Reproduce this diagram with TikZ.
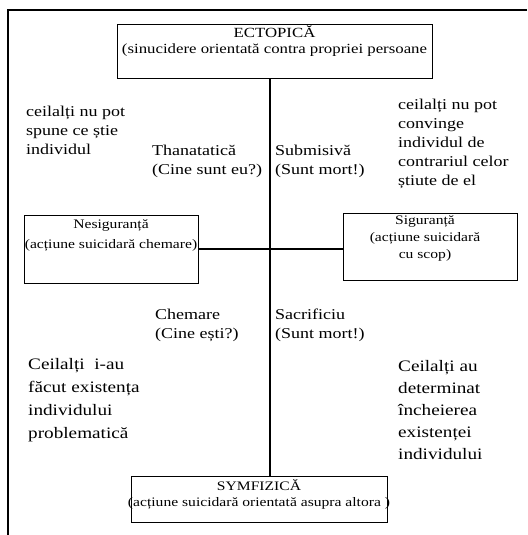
\documentclass[tikz,border=0pt]{standalone}
\usepackage{fontspec}
\setmainfont{Liberation Serif}[FakeStretch=1.2]
\usetikzlibrary{positioning}

\begin{document}
\begin{tikzpicture}[x=1pt,y=-1pt]

\tikzstyle{frame} = [line width=1.3pt]
\tikzstyle{state} = [rectangle,draw=black,fill=white,line width=1pt,inner sep=0]
\tikzstyle{statetext} = [inner sep=0,align=center,font=\fontsize{13}{16}\selectfont]
\tikzstyle{note} = [inner sep=0,anchor=north west,align=left,font=\fontsize{15}{19}\selectfont]
\tikzstyle{bignote} = [note,font=\fontsize{16}{23}\selectfont]
\tikzstyle{axis} = [line width=1.3pt]

\useasboundingbox (0,0) rectangle (527,535);

% outer frame, only top and left edge
\coordinate (frametop) at (527,10);
\coordinate (framecorner) at (8,10);
\coordinate (framebottom) at (8,535);
\draw[frame] (frametop) -- (framecorner) -- (framebottom);

% the four boxes
\node[state,minimum width=315pt,minimum height=53pt] (ecto) at (274.5,51.5) {};
\node[state,minimum width=174pt,minimum height=68pt] (nesig) at (111,249) {};
\node[state,minimum width=174pt,minimum height=67pt] (sig) at (430,246.5) {};
\node[state,minimum width=256pt,minimum height=46pt] (symf) at (259,499) {};

\node[statetext,font=\fontsize{14}{16}\selectfont,below=1pt of ecto.north] (ectotext) {ECTOPICĂ\\(sinucidere orientată contra propriei persoane};
\node[statetext,font=\fontsize{13}{20}\selectfont,below=5pt of nesig.north] (nesigtext) {Nesiguranță\\(acțiune suicidară chemare)};
\node[statetext,font=\fontsize{13}{17}\selectfont,below=3pt of sig.north,xshift=-5pt] (sigtext) {Siguranță\\(acțiune suicidară\\cu scop)};
\node[statetext,below=4pt of symf.north] (symftext) {SYMFIZICĂ\\(acțiune suicidară orientată asupra altora )};

% axes
\coordinate (axis) at (270,0);
\draw[axis] (ecto.south -| axis) -- (symf.north -| axis);
\draw[axis] (nesig.east) -- (nesig.east -| sig.west);

% upper quadrants
\node[note] (leftup) at (26,106) {ceilalți nu pot\\spune ce știe\\individul};
\node[note] (thana) at (152,145) {Thanatatică\\(Cine sunt eu?)};
\node[note] (submis) at (275,145) {Submisivă\\(Sunt mort!)};
\node[note] (rightup) at (398,99) {ceilalți nu pot\\convinge\\individul de\\contrariul celor\\știute de el};

% lower quadrants
\node[note] (chemare) at (155,309) {Chemare\\(Cine ești?)};
\node[note] (sacrif) at (275,309) {Sacrificiu\\(Sunt mort!)};
\node[bignote] (leftdown) at (28,358) {Ceilalți~ i-au\\făcut existența\\individului\\problematică};
\node[bignote,font=\fontsize{16}{22}\selectfont] (rightdown) at (398,360) {Ceilalți au\\determinat\\încheierea\\existenței\\individului};

\end{tikzpicture}
\end{document}
